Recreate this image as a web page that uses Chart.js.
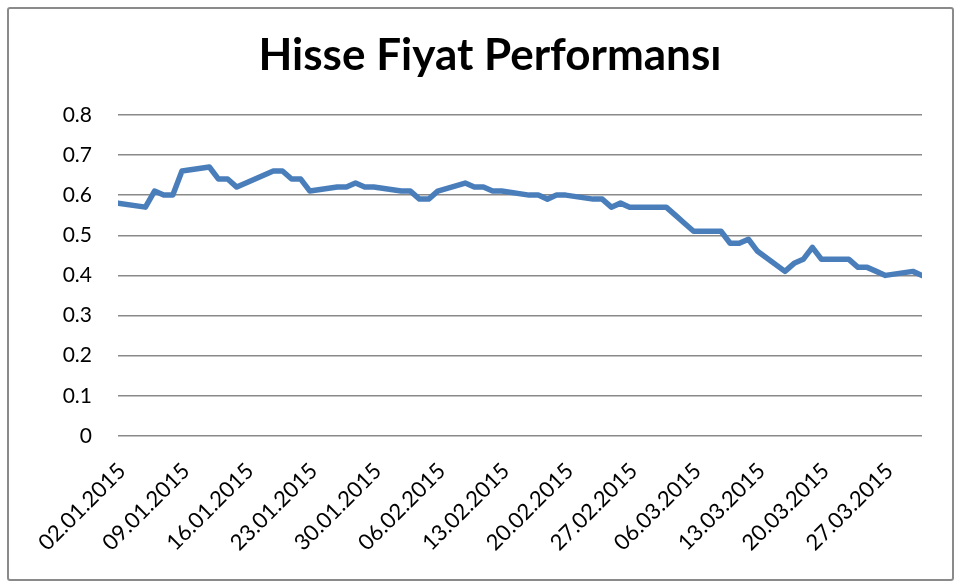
<!DOCTYPE html>
<html>
<head>
<meta charset="utf-8">
<title>Hisse Fiyat Performansı</title>
<script src="https://cdn.jsdelivr.net/npm/chart.js@4/dist/chart.umd.min.js"></script>
<style>
  html, body { margin: 0; padding: 0; background: #fff; }
  #wrap { position: relative; width: 958px; height: 581px; }
  #chart { position: absolute; left: 0; top: 0; }
  #frame {
    position: absolute; left: 7px; top: 7px; width: 943px; height: 570px;
    border: 2px solid #8a8a8a; border-radius: 3px; pointer-events: none;
  }
</style>
</head>
<body>
<div id="wrap">
  <canvas id="chart" width="958" height="581"></canvas>
  <div id="frame"></div>
</div>
<script>
"use strict";
//Defining the data
let tradeDates = [
  "02.01.2015", "05.01.2015", "06.01.2015", "07.01.2015", "08.01.2015", "09.01.2015",
  "12.01.2015", "13.01.2015", "14.01.2015", "15.01.2015", "16.01.2015",
  "19.01.2015", "20.01.2015", "21.01.2015", "22.01.2015", "23.01.2015",
  "26.01.2015", "27.01.2015", "28.01.2015", "29.01.2015", "30.01.2015",
  "02.02.2015", "03.02.2015", "04.02.2015", "05.02.2015", "06.02.2015",
  "09.02.2015", "10.02.2015", "11.02.2015", "12.02.2015", "13.02.2015",
  "16.02.2015", "17.02.2015", "18.02.2015", "19.02.2015", "20.02.2015",
  "23.02.2015", "24.02.2015", "25.02.2015", "26.02.2015", "27.02.2015",
  "02.03.2015", "03.03.2015", "04.03.2015", "05.03.2015", "06.03.2015",
  "09.03.2015", "10.03.2015", "11.03.2015", "12.03.2015", "13.03.2015",
  "16.03.2015", "17.03.2015", "18.03.2015", "19.03.2015", "20.03.2015",
  "23.03.2015", "24.03.2015", "25.03.2015", "26.03.2015", "27.03.2015",
  "30.03.2015", "31.03.2015",
];
let prices = [
  0.58, 0.57, 0.61, 0.60, 0.60, 0.66,
  0.67, 0.64, 0.64, 0.62, 0.63,
  0.66, 0.66, 0.64, 0.64, 0.61,
  0.62, 0.62, 0.63, 0.62, 0.62,
  0.61, 0.61, 0.59, 0.59, 0.61,
  0.63, 0.62, 0.62, 0.61, 0.61,
  0.60, 0.60, 0.59, 0.60, 0.60,
  0.59, 0.59, 0.57, 0.58, 0.57,
  0.57, 0.57, 0.55, 0.53, 0.51,
  0.51, 0.48, 0.48, 0.49, 0.46,
  0.41, 0.43, 0.44, 0.47, 0.44,
  0.44, 0.42, 0.42, 0.41, 0.40,
  0.41, 0.40,
];
let xTickLabels = [
  "02.01.2015", "09.01.2015", "16.01.2015", "23.01.2015", "30.01.2015",
  "06.02.2015", "13.02.2015", "20.02.2015", "27.02.2015", "06.03.2015",
  "13.03.2015", "20.03.2015", "27.03.2015",
];
let yTickLabels = ["0", "0.1", "0.2", "0.3", "0.4", "0.5", "0.6", "0.7", "0.8"];

//turn "dd.mm.yyyy" into days since the first date
function dayNumber(text) {
  let parts = text.split(".");
  return Date.UTC(+parts[2], +parts[1] - 1, +parts[0]) / 86400000;
}

let firstDay = dayNumber(tradeDates[0]);
let points = [];
for (let i = 0; i < tradeDates.length; i++) {
  points.push({ x: dayNumber(tradeDates[i]) - firstDay, y: prices[i] });
}
let lastDay = points[points.length - 1].x;

let gridColor = "#898989";
let textFont = "Lato, 'Liberation Sans', sans-serif";

let ctx = document.getElementById("chart").getContext("2d");

let myChart = new Chart(ctx, {
  type: "line",
  data: {
    datasets: [
      {
        data: points,
        borderColor: "#4a7ebb",
        borderWidth: 5.5,
        borderJoinStyle: "round",
        borderCapStyle: "round",
        pointRadius: 0,
        tension: 0,
        fill: false,
      },
    ],
  },
  options: {
    responsive: false,
    animation: false,
    events: [],
    layout: {
      padding: { left: 58, right: 36, top: 8, bottom: 0 },
    },
    plugins: {
      legend: { display: false },
      tooltip: { enabled: false },
      title: {
        display: true,
        text: "Hisse Fiyat Performansı",
        color: "#000",
        font: { family: textFont, size: 44, weight: "bold" },
        padding: { top: 21, bottom: 33 },
      },
    },
    scales: {
      x: {
        type: "linear",
        min: 0,
        max: lastDay,
        grid: { display: false },
        border: { display: false },
        afterBuildTicks: function (scale) {
          scale.ticks = xTickLabels.map(function (label, i) {
            return { value: i * 7 };
          });
        },
        afterFit: function (scale) {
          scale.height = 145;
        },
        ticks: {
          autoSkip: false,
          minRotation: 45,
          maxRotation: 45,
          padding: 14,
          labelOffset: 4,
          color: "#000",
          font: { family: textFont, size: 22 },
          callback: function (value, index) {
            return xTickLabels[index];
          },
        },
      },
      y: {
        min: 0,
        max: 0.8,
        grid: { color: gridColor, lineWidth: 1.5, drawTicks: false },
        border: { display: false },
        afterBuildTicks: function (scale) {
          scale.ticks = yTickLabels.map(function (label, i) {
            return { value: i / 10 };
          });
        },
        afterFit: function (scale) {
          scale.width = 60;
        },
        ticks: {
          padding: 26,
          color: "#000",
          font: { family: textFont, size: 21 },
          callback: function (value, index) {
            return yTickLabels[index];
          },
        },
      },
    },
  },
  plugins: [
    {
      id: "whiteBack",
      beforeDraw: function (chart) {
        let c = chart.ctx;
        c.save();
        c.fillStyle = "#fff";
        c.fillRect(0, 0, chart.width, chart.height);
        c.restore();
      },
    },
  ],
});
</script>
</body>
</html>
